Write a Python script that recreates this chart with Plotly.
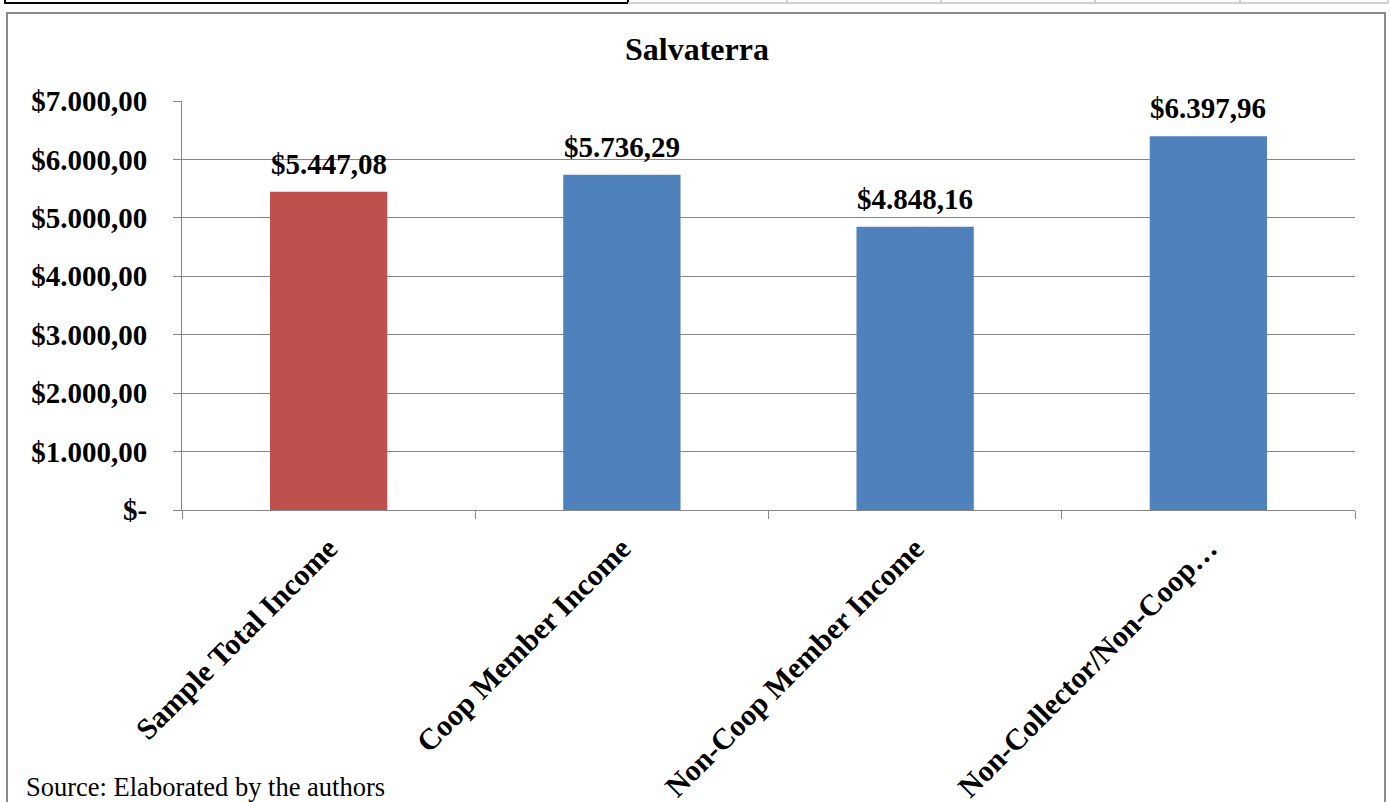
import plotly.graph_objects as go

categories = ["Sample Total Income", "Coop Member Income", "Non-Coop Member Income", "Non-Collector/Non-Coop…"]
values = [5447.08, 5736.29, 4848.16, 6397.96]
value_labels = ["$5.447,08", "$5.736,29", "$4.848,16", "$6.397,96"]
bar_colors = ["#C0504D", "#4F81BD", "#4F81BD", "#4F81BD"]
y_tickvals = [0, 1000, 2000, 3000, 4000, 5000, 6000, 7000]
y_ticktext = ["$-", "$1.000,00", "$2.000,00", "$3.000,00", "$4.000,00", "$5.000,00", "$6.000,00", "$7.000,00"]
title_text = "Salvaterra"
source_text = "Source: Elaborated by the authors"

W, H = 1390, 802
PL, PR, PT, PB = 182, 1355, 101, 510
FONT = "Liberation Serif"
GRID = "#868686"


def px(x):
    return (x - PL) / (PR - PL)


def py(y):
    return (PB - y) / (PB - PT)


fig = go.Figure()
fig.add_trace(go.Bar(
    x=categories, y=values, marker=dict(color=bar_colors, line=dict(width=0)),
    width=0.4, hoverinfo="skip",
))

annotations = []
for c, v, t in zip(categories, values, value_labels):
    annotations.append(dict(x=c, y=v, xref="x", yref="y", text="<b>" + t + "</b>",
                            showarrow=False, yanchor="bottom", yshift=10,
                            font=dict(family=FONT, size=29, color="black")))
annotations.append(dict(x=px(24), y=py(787), xref="paper", yref="paper", text=source_text,
                        showarrow=False, xanchor="left", yanchor="middle",
                        font=dict(family=FONT, size=26.5, color="black")))

shapes = [
    # outer chart border
    dict(type="rect", xref="paper", yref="paper", x0=px(7), x1=px(1385), y0=py(812), y1=py(13),
         line=dict(color="#8a8a8a", width=2), fillcolor="rgba(0,0,0,0)", layer="below"),
    # top table fragment
    dict(type="rect", xref="paper", yref="paper", x0=px(5), x1=px(628), y0=py(3), y1=py(-5),
         line=dict(color="black", width=2), fillcolor="rgba(0,0,0,0)"),
    dict(type="line", xref="paper", yref="paper", x0=px(628), x1=px(1388), y0=py(3), y1=py(3),
         line=dict(color="#d0d0d0", width=2)),
]
for xv in [787, 941, 1095, 1240, 1388]:
    shapes.append(dict(type="line", xref="paper", yref="paper", x0=px(xv), x1=px(xv), y0=py(3), y1=py(-2),
                       line=dict(color="#d0d0d0", width=2)))

fig.update_layout(
    width=W, height=H,
    margin=dict(l=PL, r=W - PR, t=PT, b=H - PB, autoexpand=False),
    paper_bgcolor="white", plot_bgcolor="white",
    showlegend=False,
    title=dict(text="<b>" + title_text + "</b>", x=697 / W, xanchor="center", y=1 - 49 / H, yanchor="middle",
               font=dict(family=FONT, size=32, color="black")),
    annotations=annotations,
    shapes=shapes,
    bargap=0.6,
)
fig.update_xaxes(
    type="category", tickangle=-45, showline=True, linecolor=GRID, linewidth=1,
    ticks="outside", tickson="boundaries", ticklen=8, tickcolor=GRID, showgrid=False,
    tickfont=dict(family=FONT, size=30, color="black"), ticklabelstandoff=8,
    tickprefix="<b>", ticksuffix="</b>",
)
fig.update_yaxes(
    range=[0, 7000], tickvals=y_tickvals, ticktext=["<b>" + t + "</b>" for t in y_ticktext],
    showline=True, linecolor=GRID, linewidth=1, ticks="outside", ticklen=8, tickcolor=GRID,
    showgrid=True, gridcolor=GRID, gridwidth=1, zeroline=False,
    tickfont=dict(family=FONT, size=29, color="black"), ticklabelstandoff=20,
)

fig.write_html("out.html")
